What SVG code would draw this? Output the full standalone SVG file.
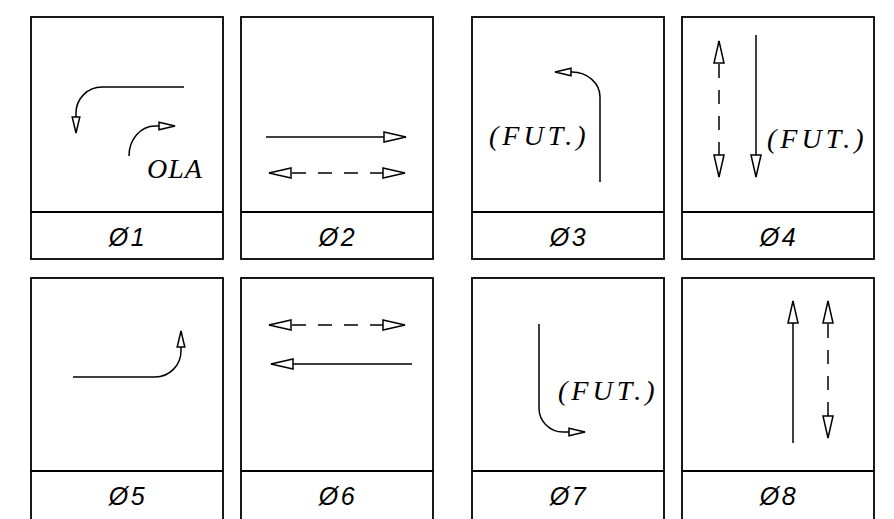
<svg xmlns="http://www.w3.org/2000/svg" width="894" height="519" viewBox="0 0 894 519">
<defs>
<style>
.box{fill:#fff;stroke:#000;stroke-width:1.8}
.div{stroke:#000;stroke-width:1.8}
.ln{fill:none;stroke:#000;stroke-width:1.5}
.dash{stroke-dasharray:14 12;stroke-dashoffset:3}
.lbl{font-family:"Liberation Sans",Arial,sans-serif;font-style:italic;font-size:25px;letter-spacing:2.5px;text-anchor:middle;fill:#000}
.txt{font-family:"Liberation Serif","Times New Roman",serif;font-style:italic;fill:#000}
.ah{fill:#fff;stroke:#000;stroke-width:1.5;stroke-dasharray:none;stroke-linejoin:miter}
</style>
<marker id="big" markerUnits="userSpaceOnUse" viewBox="-2 -7 26 14" markerWidth="26" markerHeight="14" refX="22" refY="0" orient="auto-start-reverse" overflow="visible">
<path class="ah" d="M0,-5 L22,0 L0,5 Z"/>
</marker>
<marker id="small" markerUnits="userSpaceOnUse" viewBox="-2 -6 19 12" markerWidth="19" markerHeight="12" refX="16" refY="0" orient="auto-start-reverse" overflow="visible">
<path class="ah" d="M0,-3.8 L16,0 L0,3.8 Z"/>
</marker>
</defs>
<rect width="894" height="519" fill="#fff"/>

<g id="panel01">
<rect class="box" x="31" y="17" width="192" height="242"/>
<line class="div" x1="31" y1="212" x2="223" y2="212"/>
<text class="lbl" x="128" y="246">Ø1</text>
<text class="txt" x="147" y="178" font-size="28" letter-spacing="1">OLA</text>
</g>
<g id="panel02">
<rect class="box" x="241" y="17" width="192" height="242"/>
<line class="div" x1="241" y1="212" x2="433" y2="212"/>
<text class="lbl" x="338" y="246">Ø2</text>
</g>
<g id="panel03">
<rect class="box" x="472" y="17" width="192" height="242"/>
<line class="div" x1="472" y1="212" x2="664" y2="212"/>
<text class="lbl" x="569" y="246">Ø3</text>
<text class="txt" x="489" y="145" font-size="28" letter-spacing="4">(FUT.)</text>
</g>
<g id="panel04">
<rect class="box" x="682" y="17" width="192" height="242"/>
<line class="div" x1="682" y1="212" x2="874" y2="212"/>
<text class="lbl" x="779" y="246">Ø4</text>
<text class="txt" x="767" y="148" font-size="28" letter-spacing="4">(FUT.)</text>
</g>
<g id="panel05">
<rect class="box" x="31" y="278" width="192" height="252"/>
<line class="div" x1="31" y1="471" x2="223" y2="471"/>
<text class="lbl" x="128" y="505">Ø5</text>
</g>
<g id="panel06">
<rect class="box" x="241" y="278" width="192" height="252"/>
<line class="div" x1="241" y1="471" x2="433" y2="471"/>
<text class="lbl" x="338" y="505">Ø6</text>
</g>
<g id="panel07">
<rect class="box" x="472" y="278" width="192" height="252"/>
<line class="div" x1="472" y1="471" x2="664" y2="471"/>
<text class="lbl" x="569" y="505">Ø7</text>
<text class="txt" x="558" y="400" font-size="28" letter-spacing="4">(FUT.)</text>
</g>
<g id="panel08">
<rect class="box" x="682" y="278" width="192" height="252"/>
<line class="div" x1="682" y1="471" x2="874" y2="471"/>
<text class="lbl" x="779" y="505">Ø8</text>
</g>

<g id="connectors">
<path class="ln" d="M184,87 H102 A26,26 0 0 0 76,113 V133" marker-end="url(#small)"/>
<path class="ln" d="M129,156 A26,30 0 0 1 155,126 H175" marker-end="url(#small)"/>
<path class="ln" d="M266,137 H406" marker-end="url(#big)"/>
<path class="ln dash" d="M269,173 H405" marker-start="url(#big)" marker-end="url(#big)"/>
<path class="ln" d="M600,182 V97 A28,25 0 0 0 572,72 H555" marker-end="url(#small)"/>
<path class="ln dash" d="M719,41 V177" marker-start="url(#big)" marker-end="url(#big)"/>
<path class="ln" d="M756,35 V177" marker-end="url(#big)"/>
<path class="ln" d="M73,377 H155 A26,26 0 0 0 181,351 V331" marker-end="url(#small)"/>
<path class="ln dash" d="M269,325 H405" marker-start="url(#big)" marker-end="url(#big)"/>
<path class="ln" d="M412,364 H271" marker-end="url(#big)"/>
<path class="ln" d="M539,324 V408 A24,24 0 0 0 563,432 H585" marker-end="url(#small)"/>
<path class="ln" d="M793,443 V301" marker-end="url(#big)"/>
<path class="ln dash" d="M828,301 V438" marker-start="url(#big)" marker-end="url(#big)"/>
</g>
</svg>
